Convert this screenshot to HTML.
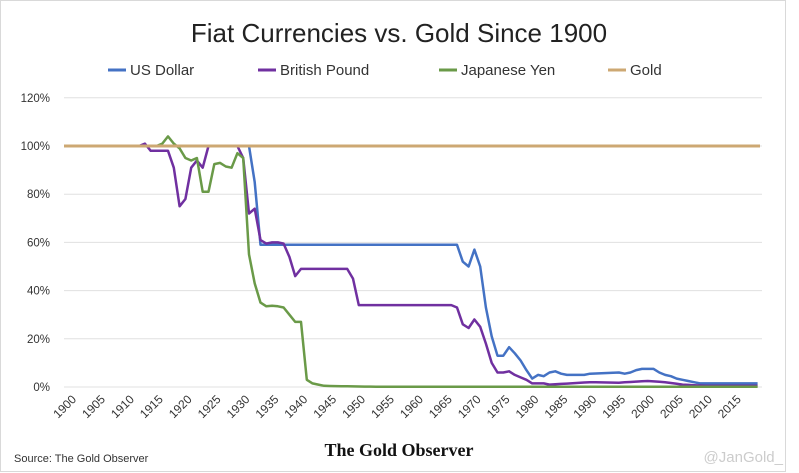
<!DOCTYPE html>
<html><head><meta charset="utf-8"><style>
body{margin:0;background:#fff;}
svg{display:block;font-family:"Liberation Sans",sans-serif;}
</style></head><body>
<svg id="s" width="799" height="473" viewBox="0 0 799 473" xmlns="http://www.w3.org/2000/svg">
<rect x="0.5" y="0.5" width="785" height="471" fill="#fff" stroke="#d9d9d9"/>
<text x="399" y="42" text-anchor="middle" font-size="26" fill="#222">Fiat Currencies vs. Gold Since 1900</text>
<g font-size="15" fill="#333">
<line x1="108" y1="70" x2="126" y2="70" stroke="#4472c4" stroke-width="3"/><text x="130" y="75">US Dollar</text>
<line x1="258" y1="70" x2="276" y2="70" stroke="#7030a0" stroke-width="3"/><text x="280" y="75">British Pound</text>
<line x1="439" y1="70" x2="457" y2="70" stroke="#6a9a48" stroke-width="3"/><text x="461" y="75">Japanese Yen</text>
<line x1="608" y1="70" x2="626" y2="70" stroke="#cda873" stroke-width="3"/><text x="630" y="75">Gold</text>
</g>
<g id="grid"></g>
<g id="series" fill="none" stroke-width="2.5" stroke-linejoin="round"></g>
<text x="14" y="462" font-size="11" fill="#333">Source: The Gold Observer</text>
<text x="399" y="456" text-anchor="middle" font-family="Liberation Serif,serif" font-weight="bold" font-size="18" fill="#111">The Gold Observer</text>
<text x="783" y="462" text-anchor="end" font-size="15" fill="#ccc">@JanGold_</text>
</svg>
<script>
function X(y){return 64+(y-1900)*5.78}
function Y(v){return 387-v*2.41}
var g=document.getElementById('grid'),h='';
for(var v=0;v<=120;v+=20){h+='<line x1="64" x2="762" y1="'+Y(v)+'" y2="'+Y(v)+'" stroke="#e0e0e0" stroke-width="1"/>';
h+='<text x="50" y="'+(Y(v)+4)+'" text-anchor="end" font-size="11.5" fill="#333">'+v+'%</text>';}
for(var y=1900;y<=2015;y+=5){var x=X(y)+13,yy=400;h+='<text x="'+x+'" y="'+yy+'" text-anchor="end" font-size="12" fill="#333" transform="rotate(-45 '+x+' '+yy+')">'+y+'</text>';}
g.innerHTML=h;
function build(k){var a={};for(var i=0;i<k.length;i+=2)a[k[i]]=k[i+1];var ys=Object.keys(a).map(Number).sort(function(p,q){return p-q});var out=[];for(var y=1900;y<=2020;y++){var v;if(a[y]!==undefined)v=a[y];else{var lo=null,hi=null;for(var j=0;j<ys.length;j++){if(ys[j]<y)lo=ys[j];if(ys[j]>y&&hi===null)hi=ys[j];}if(hi===null)v=a[lo];else v=a[lo]+(a[hi]-a[lo])*(y-lo)/(hi-lo);}out.push(X(y).toFixed(1)+','+Y(v).toFixed(1));}return out.join(' ');}
var gbp=[1900,100,1913,100,1914,101,1915,98,1918,98,1919,91,1920,75,1921,78,1922,91,1923,94,1924,91,1925,100,1930,100,1931,95,1932,72,1933,74,1934,61,1935,59.5,1936,60,1937,60,1938,59.5,1939,54,1940,46,1941,49,1949,49,1950,45,1951,34,1967,34,1968,33,1969,26,1970,24.5,1971,28,1972,25,1973,18,1974,10,1975,6,1976,6,1977,6.5,1978,5,1979,4,1980,3,1981,1.5,1983,1.5,1984,1,1991,2,1996,1.8,2001,2.5,2004,2,2007,1,2011,0.5,2020,0.5];
var usd=[1900,100,1932,100,1933,85,1934,59,1968,59,1969,52,1970,50,1971,57,1972,50,1973,33,1974,21,1975,13,1976,13,1977,16.5,1978,14,1979,11,1980,7,1981,3.5,1982,5,1983,4.5,1984,6,1985,6.5,1986,5.5,1987,5,1990,5,1991,5.5,1996,6,1997,5.5,1998,6,1999,7,2000,7.5,2002,7.5,2003,6,2004,5,2005,4.5,2006,3.5,2007,3,2008,2.5,2009,2,2010,1.5,2020,1.5];
var jpy=[1900,100,1916,100,1917,101,1918,104,1919,101,1920,99,1921,95,1922,94,1923,95,1924,81,1925,81,1926,92.5,1927,93,1928,91.5,1929,91,1930,97,1931,95,1932,55,1933,43,1934,35,1935,33.5,1936,33.7,1937,33.5,1938,33,1939,30,1940,27,1941,27,1942,3,1943,1.5,1944,1,1945,0.5,1948,0.3,1955,0.1,2020,0.1];
var s=document.getElementById('series');
s.innerHTML='<polyline points="'+build(usd)+'" stroke="#4472c4"/>'+
'<polyline points="'+build(gbp)+'" stroke="#7030a0"/>'+
'<polyline points="'+build(jpy)+'" stroke="#6a9a48"/>'+
'<line x1="64" y1="'+Y(100)+'" x2="760" y2="'+Y(100)+'" stroke="#cda873" stroke-width="3"/>';
</script>
</body></html>
